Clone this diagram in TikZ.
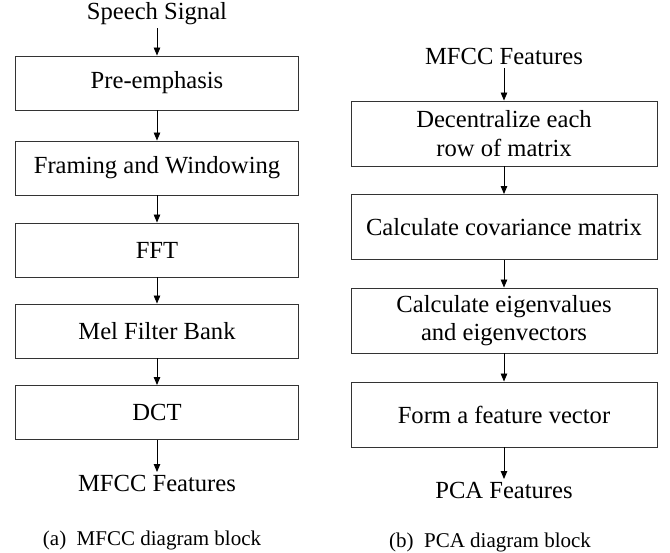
\documentclass[tikz,border=0pt]{standalone}
\usepackage{fontspec}
\setmainfont{Liberation Serif}
\usetikzlibrary{arrows.meta}

\begin{document}
\begin{tikzpicture}[x=1pt,y=-1pt,
    %
    block/.style={rectangle, draw=black!80, line width=0.9pt, align=center,
    font=\fontsize{24.6}{28.3}\selectfont},
    label/.style={inner sep=2.5pt, font=\fontsize{24.6}{28.3}\selectfont},
    caption/.style={inner sep=0pt, font=\fontsize{21}{24}\selectfont},
    arr/.style={-{Triangle[length=8pt,width=6.5pt]}, line width=0.9pt}]
    \useasboundingbox (0,0) rectangle (670,553);
    % (a) MFCC
    \tikzstyle{every node}=[minimum width=283pt, minimum height=54pt]
    \node[label, minimum width=0pt, minimum height=0pt, anchor=base] (sig) at (157,20) {Speech Signal};
    \node[block] (pre) at (157,83) {Pre-emphasis};
    \node[block] (frame) at (157,168) {Framing and Windowing};
    \node[block] (fft) at (157,250) {FFT};
    \node[block] (mel) at (157,331) {Mel Filter Bank};
    \node[block] (dct) at (157,412.5) {DCT};
    \node[label, minimum width=0pt, minimum height=0pt, anchor=base] (mfcc) at (157,491) {MFCC Features};
    \node[caption, minimum width=0pt, minimum height=0pt, anchor=base] (capa) at (152,545) {(a)\ \ MFCC\ diagram\ block};
    \draw[arr] (sig) -- (pre);
    \draw[arr] (pre) -- (frame);
    \draw[arr] (frame) -- (fft);
    \draw[arr] (fft) -- (mel);
    \draw[arr] (mel) -- (dct);
    \draw[arr] (dct) -- (mfcc);
    % (b) PCA
    \tikzstyle{every node}=[minimum width=306pt, minimum height=65pt]
    \node[label, minimum width=0pt, minimum height=0pt, anchor=base] (in) at (504,65) {MFCC Features};
    \node[block] (dec) at (504,133.5) {Decentralize each\\row of matrix};
    \node[block] (cov) at (504,227) {Calculate covariance matrix};
    \node[block] (eig) at (504,320.5) {Calculate eigenvalues\\and eigenvectors};
    \node[block] (vec) at (504,414.5) {Form a feature vector};
    \node[label, minimum width=0pt, minimum height=0pt, anchor=base] (pca) at (504,498) {PCA Features};
    \node[caption, minimum width=0pt, minimum height=0pt, anchor=base] (capb) at (490,547) {(b)\ \ PCA\ diagram\ block};
    \draw[arr] (in) -- (dec);
    \draw[arr] (dec) -- (cov);
    \draw[arr] (cov) -- (eig);
    \draw[arr] (eig) -- (vec);
    \draw[arr] (vec) -- (pca);
\end{tikzpicture}
\end{document}
